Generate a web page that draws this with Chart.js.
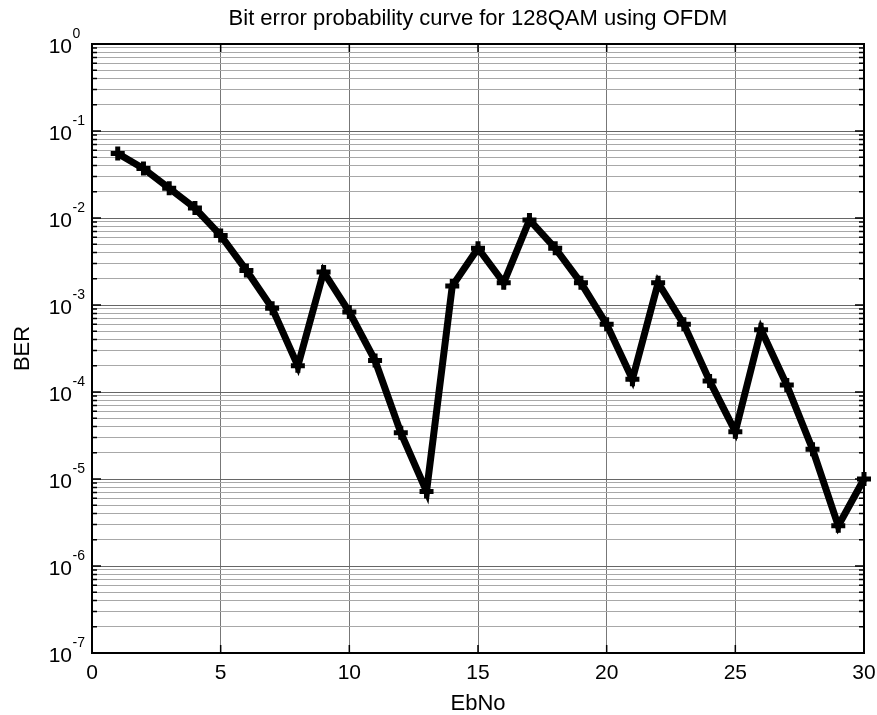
<!DOCTYPE html>
<html>
<head>
<meta charset="utf-8">
<script src="https://cdn.jsdelivr.net/npm/chart.js@4/dist/chart.umd.min.js"></script>
<style>
  body { margin: 0; background: #fff; }
  #wrap { width: 877px; height: 715px; }
</style>
</head>
<body>
<div id="wrap"><canvas id="berChart" width="877" height="715"></canvas></div>
<script>
// EbNo values (dB) and measured bit error rate
const ebNo = [1, 2, 3, 4, 5, 6, 7, 8, 9, 10, 11, 12, 13, 14, 15,
              16, 17, 18, 19, 20, 21, 22, 23, 24, 25, 26, 27, 28, 29, 30];
const berValues = [0.055, 0.037, 0.022, 0.013, 0.0063, 0.0025, 0.00092, 0.0002, 0.0024, 0.00083,
                   0.00023, 3.4e-5, 7.2e-6, 0.00165, 0.0045, 0.0018, 0.0095, 0.0045, 0.0018, 0.0006,
                   0.00014, 0.0018, 0.0006, 0.000134, 3.5e-5, 0.00052, 0.00012, 2.2e-5, 2.9e-6, 1.0e-5];

const xTicks = [0, 5, 10, 15, 20, 25, 30];
const yExponents = [-7, -6, -5, -4, -3, -2, -1, 0];
const yMinorMultipliers = [1, 2, 3, 4, 5, 6, 7, 8, 9];

const fontFamily = "'Liberation Sans', Arial, Helvetica, sans-serif";

// MATLAB style axes: box, inward tick marks and 10^n labels
const matlabAxes = {
    id: 'matlabAxes',
    afterDraw(chart) {
        const ctx = chart.ctx;
        const area = chart.chartArea;
        const xs = chart.scales.x;
        const ys = chart.scales.y;
        ctx.save();

        // tick marks on all four sides
        ctx.strokeStyle = '#000';
        ctx.lineWidth = 1.5;
        ctx.beginPath();
        ys.ticks.forEach(t => {
            const y = ys.getPixelForValue(t.value);
            const len = t.major ? 9 : 5;
            ctx.moveTo(area.left, y); ctx.lineTo(area.left + len, y);
            ctx.moveTo(area.right, y); ctx.lineTo(area.right - len, y);
        });
        xs.ticks.forEach(t => {
            const x = xs.getPixelForValue(t.value);
            ctx.moveTo(x, area.bottom); ctx.lineTo(x, area.bottom - 8);
            ctx.moveTo(x, area.top); ctx.lineTo(x, area.top + 8);
        });
        ctx.stroke();

        // box
        ctx.lineWidth = 2;
        ctx.strokeRect(area.left, area.top, area.right - area.left, area.bottom - area.top);

        // y labels as 10 with superscript exponent
        ctx.fillStyle = '#000';
        ctx.textBaseline = 'alphabetic';
        yExponents.forEach(e => {
            const y = ys.getPixelForValue(Math.pow(10, e));
            ctx.font = '21px ' + fontFamily;
            ctx.textAlign = 'right';
            ctx.fillText('10', 72, y + 8.5);
            ctx.font = '14px ' + fontFamily;
            ctx.textAlign = 'left';
            ctx.fillText(String(e), 72.5, y - 6.5);
        });
        ctx.restore();
    }
};

const points = ebNo.map((x, i) => ({ x: x, y: berValues[i] }));

new Chart(document.getElementById('berChart'), {
    type: 'line',
    data: {
        datasets: [{
            label: 'BER',
            data: points,
            borderColor: '#000',
            backgroundColor: '#000',
            borderWidth: 7,
            pointStyle: 'cross',
            pointRadius: 7,
            pointBorderWidth: 5,
            pointBorderColor: '#000',
            tension: 0,
            clip: false
        }]
    },
    options: {
        responsive: false,
        animation: false,
        layout: { padding: { left: 0, right: 13, top: 0, bottom: 0 } },
        plugins: {
            legend: { display: false },
            tooltip: { enabled: false },
            title: {
                display: true,
                text: 'Bit error probability curve for 128QAM using OFDM',
                color: '#000',
                fullSize: false,
                font: { family: fontFamily, size: 22, weight: 'normal', lineHeight: 1.2 },
                padding: { top: 6, bottom: 11.6 }
            }
        },
        scales: {
            x: {
                type: 'linear',
                min: 0,
                max: 30,
                afterBuildTicks: scale => {
                    scale.ticks = xTicks.map(v => ({ value: v }));
                },
                afterFit: scale => {
                    scale.height = 62;
                    scale.paddingLeft = 0;
                    scale.paddingRight = 0;
                },
                grid: {
                    color: ctx => (ctx.tick && (ctx.tick.value === 0 || ctx.tick.value === 30)) ? 'rgba(0,0,0,0)' : '#777',
                    lineWidth: 1,
                    drawTicks: false
                },
                border: { display: false },
                ticks: {
                    color: '#000',
                    padding: 8,
                    maxRotation: 0,
                    font: { family: fontFamily, size: 21, lineHeight: 1.2 }
                },
                title: {
                    display: true,
                    text: 'EbNo',
                    color: '#000',
                    font: { family: fontFamily, size: 22, lineHeight: 1 },
                    padding: { top: 0, bottom: 0 }
                }
            },
            y: {
                type: 'logarithmic',
                min: 1e-7,
                max: 1,
                afterBuildTicks: scale => {
                    const ticks = [];
                    yExponents.forEach(e => {
                        yMinorMultipliers.forEach(m => {
                            if (e === 0 && m > 1) return;
                            ticks.push({ value: m * Math.pow(10, e), major: m === 1 });
                        });
                    });
                    scale.ticks = ticks;
                },
                afterFit: scale => {
                    scale.width = 92;
                    scale.paddingTop = 0;
                    scale.paddingBottom = 0;
                },
                grid: {
                    color: ctx => (ctx.tick && ctx.tick.major) ? '#666' : '#a8a8a8',
                    lineWidth: 1,
                    drawTicks: false
                },
                border: { display: false },
                ticks: { display: false },
                title: {
                    display: true,
                    text: 'BER',
                    color: '#000',
                    font: { family: fontFamily, size: 22, lineHeight: 1 },
                    padding: { top: 12, bottom: 0 }
                }
            }
        }
    },
    plugins: [matlabAxes]
});
</script>
</body>
</html>
